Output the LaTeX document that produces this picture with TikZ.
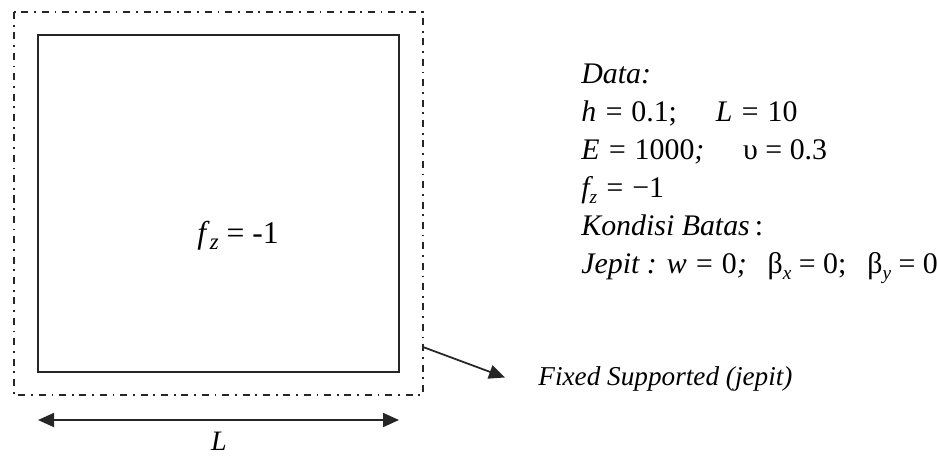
\documentclass[tikz,border=0pt]{standalone}
\usepackage{fontspec}
\setmainfont{Liberation Serif}
\usetikzlibrary{arrows.meta}
\newcommand{\lowsub}[2][11]{\raisebox{-0.45ex}{\fontsize{#1}{#1}\selectfont\itshape #2}}
\newcommand{\eqs}{\hspace{0.25em}=\hspace{0.25em}}
\begin{document}
\begin{tikzpicture}[
    >={Triangle[length=0.32cm,width=0.28cm]},
    plate/.style={draw, black!85, line width=1pt},
    edgeline/.style={draw, black!85, line width=1pt,
      dash pattern=on 4pt off 3.3pt on 1pt off 3.3pt},
    arrowline/.style={draw, black!85, line width=1pt, ->},
    datatext/.style={anchor=base west, inner sep=0pt, font=\fontsize{17}{19}\selectfont\itshape},
  ]
  \useasboundingbox (0,0) rectangle (18.74,-9.14);
  % ---- pelat dan batas jepit ----
  \draw[edgeline] (0.28,-0.24) rectangle (8.46,-7.9);
  \draw[plate] (0.76,-0.70) rectangle (7.98,-7.44);
  \node[anchor=base west, inner sep=0pt] (load) at (3.94,-4.86)
    {\fontsize{18}{20}\selectfont\textit{f}\lowsub[13]{z}\eqs-1};

  % ---- penunjuk tumpuan ----
  \coordinate (edge) at (8.46,-6.94);
  \node[anchor=base west, inner sep=0pt, font=\fontsize{15.5}{18}\selectfont\itshape] (fixed) at (10.76,-7.70)
    {Fixed Supported (jepit)};
  \draw[arrowline] (edge) -- ([xshift=-0.66cm, yshift=0.02cm]fixed.west);

  % ---- ukuran L ----
  \coordinate (dimleft) at (0.76,-8.4);
  \coordinate (dimright) at (7.98,-8.4);
  \draw[arrowline, <->] (dimleft) -- (dimright);
  \node[anchor=base, inner sep=0pt, font=\fontsize{16}{18}\selectfont\itshape] (len) at (4.38,-9.0) {L};

  % ---- data ----
  \node[datatext] (data0) at (11.62,-1.66) {Data:};
  \node[datatext] (data1) at (11.62,-2.42) {h\eqs\upshape 0.1;\hspace{1.3em}\itshape L\eqs\upshape 10};
  \node[datatext] (data2) at (11.62,-3.18) {E\eqs\upshape 1000\itshape;\hspace{1.3em}\upshape υ\eqs 0.3};
  \node[datatext] (data3) at (11.62,-3.94) {f\lowsub{z}\eqs\upshape −1};
  \node[datatext] (data4) at (11.62,-4.70) {Kondisi Batas\upshape\,:};
  \node[datatext] (data5) at (11.62,-5.46)
    {Jepit : w\eqs\upshape 0\itshape;\hspace{0.7em}\upshape β\lowsub{x}\eqs 0;\hspace{0.7em}β\lowsub{y}\eqs 0};
\end{tikzpicture}
\end{document}
